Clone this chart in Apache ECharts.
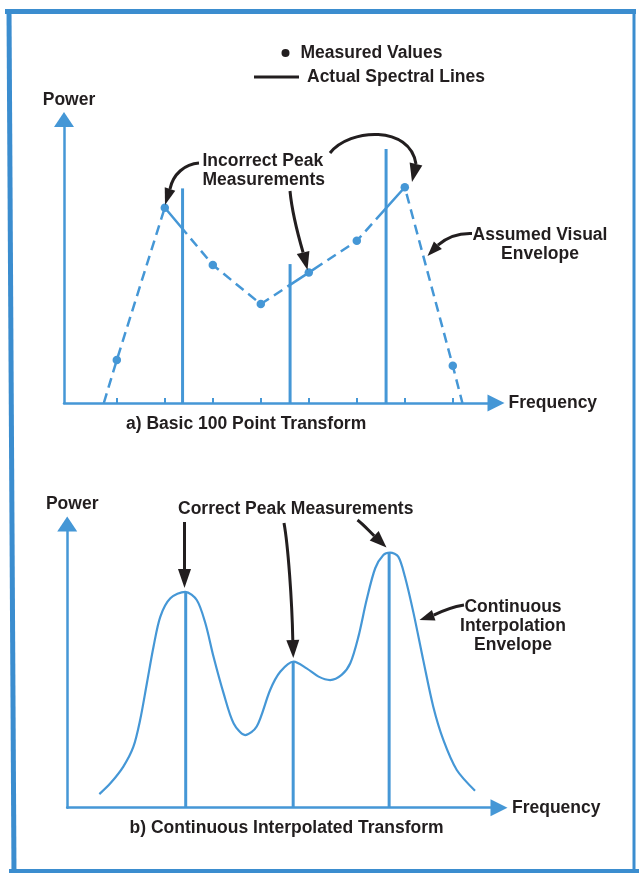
<!DOCTYPE html>
<html><head><meta charset="utf-8">
<script src="https://cdn.jsdelivr.net/npm/echarts@6/dist/echarts.min.js"></script>
<style>html,body{margin:0;padding:0;background:#fff}#c{width:639px;height:873px}</style>
</head><body><div id="c"></div>
<script>
// ---- data (frequency in bin units, power in relative units 0..100) ----
const measuredFreq  = [1.1, 2.1, 3.1, 4.1, 5.1, 6.1, 7.1, 8.1];
const measuredPower = [15.2, 68.9, 48.7, 34.9, 46.0, 57.2, 76.1, 13.1];
const envelopeEnds  = [0.83, 8.30];          // where the assumed envelope meets the axis
const spectralFreq   = [2.47, 4.71, 6.71];
const spectralPowerA = [75.7, 49.0, 89.6];
const spectralPowerB = [76.1, 51.5, 89.9];
const interpFreq  = [0.67,0.90,1.17,1.38,1.52,1.66,1.80,1.94,2.15,2.46,2.70,2.88,3.05,3.26,3.47,3.71,3.95,4.23,4.44,4.72,4.99,5.24,5.48,5.72,5.90,6.07,6.24,6.42,6.59,6.73,6.90,7.04,7.22,7.42,7.63,7.84,8.12,8.50];
const interpPower = [4.8,8.6,14.5,21.5,30.9,43.8,56.8,67.3,73.8,76.1,73.2,65.0,53.2,40.3,29.7,25.6,28.6,41.5,47.9,51.5,49.1,46.2,45.0,46.8,50.9,60.3,73.2,84.4,89.1,89.9,88.5,81.4,68.5,52.1,35.6,23.9,13.3,6.0];
const tickFreq = measuredFreq;

// ---- styling ----
const BLUE = '#4597d6';
const FRAME = '#3b8dcf';
const INK = '#221e1f';
const FONT = '"Liberation Sans", Arial, sans-serif';
const FS = 17.5;

// dash pattern of the hand-drawn envelope (solid stretches near the spectral lines), lengths along the path in px
function buildDash(solids, total, on, off) {
  const arr = []; let pos = 0;
  while (pos < total) {
    const s = solids.find(r => pos < r[1] && pos + on > r[0]);
    const len = s ? Math.max(s[1] - pos, on) : on;
    arr.push(len, off); pos += len + off;
  }
  return arr;
}
const envelopeDash = buildDash([[204, 239], [372, 415], [493, 529]], 800, 10, 6);

const chart = echarts.init(document.getElementById('c'), null, {renderer: 'canvas'});

const measuredData = measuredFreq.map((f, i) => [f, measuredPower[i]]);
const envelopeData = [[envelopeEnds[0], 0]].concat(measuredData, [[envelopeEnds[1], 0]]);
const specA = spectralFreq.map((f, i) => [f, spectralPowerA[i]]);
const specB = spectralFreq.map((f, i) => [f, spectralPowerB[i]]);
const interpData = interpFreq.map((f, i) => [f, interpPower[i]]);

function xAxisCfg(idx, withTicks, gap) {
  return {
    type: 'value', gridIndex: idx, min: 0, max: 9,
    name: 'Frequency', nameLocation: 'end', nameGap: gap,
    nameTextStyle: {color: INK, fontSize: FS, fontWeight: 'bold', fontFamily: FONT, verticalAlign: 'middle'},
    axisLine: {show: true, onZero: false, symbol: ['none', 'triangle'], symbolSize: [17, 17],
      lineStyle: {color: BLUE, width: 2.5}},
    axisTick: withTicks ? {show: true, inside: true, length: 5, customValues: tickFreq,
      lineStyle: {color: BLUE, width: 2}} : {show: false},
    axisLabel: {show: false}, splitLine: {show: false}
  };
}
function yAxisCfg(idx, gap) {
  return {
    type: 'value', gridIndex: idx, min: 0, max: 100,
    name: 'Power', nameLocation: 'end', nameGap: gap,
    nameTextStyle: {color: INK, fontSize: FS, fontWeight: 'bold', fontFamily: FONT, padding: [0, 0, 0, 10]},
    axisLine: {show: true, onZero: false, symbol: ['none', 'triangle'], symbolSize: [20, 15],
      lineStyle: {color: BLUE, width: 2.5}},
    axisTick: {show: false}, axisLabel: {show: false}, splitLine: {show: false}
  };
}

// arrow helpers (annotation graphics)
function head(tip, base, width) {
  const dx = tip[0] - base[0], dy = tip[1] - base[1];
  const L = Math.hypot(dx, dy), px = -dy / L * width / 2, py = dx / L * width / 2;
  return {type: 'polygon', shape: {points: [tip, [base[0] + px, base[1] + py], [base[0] - px, base[1] - py]]},
    style: {fill: INK}, z: 20};
}
function shaft(p0, c1, c2, p1) {
  return {type: 'bezierCurve', shape: {x1: p0[0], y1: p0[1], cpx1: c1[0], cpy1: c1[1], cpx2: c2[0], cpy2: c2[1], x2: p1[0], y2: p1[1]},
    style: {stroke: INK, lineWidth: 3, fill: null}, z: 20};
}
function label(text, x, y, align) {
  return {type: 'text', x: x, y: y, z: 20,
    style: {text: text, fill: INK, fontSize: FS, fontWeight: 'bold', fontFamily: FONT,
      align: align || 'left', verticalAlign: 'middle'}};
}
function frameLine(x1, y1, x2, y2, w) {
  return {type: 'line', shape: {x1, y1, x2, y2}, style: {stroke: FRAME, lineWidth: w}, z: 30};
}

const graphics = [
  frameLine(5, 11.5, 636, 11.5, 5),
  frameLine(634, 9, 634, 873, 3),
  frameLine(9, 871, 639, 871, 4),
  frameLine(9, 9, 14, 873, 5),
  // top annotations
  label('Incorrect Peak', 202.5, 161),
  label('Measurements', 202.5, 180.5),
  label('Assumed Visual', 540, 235.5, 'center'),
  label('Envelope', 540, 254.5, 'center'),
  shaft([199, 163], [185, 164], [173, 174], [170, 189]), head([165, 205], [170, 189], 11),
  shaft([290, 191], [292, 212], [298, 235], [303.1, 252.5]), head([307.5, 270], [303.1, 252.5], 13),
  shaft([330, 153], [350, 128], [410, 125], [416, 164]), head([412, 182], [416, 164], 13),
  shaft([472, 233.5], [458, 233], [446, 238], [437.9, 245.2]), head([427.5, 256], [437.9, 245.2], 11),
  // bottom annotations
  label('Correct Peak Measurements', 178, 509),
  label('Continuous', 513, 607.5, 'center'),
  label('Interpolation', 513, 626.5, 'center'),
  label('Envelope', 513, 645.5, 'center'),
  shaft([184.5, 522], [184.5, 540], [184.5, 555], [184.5, 569]), head([184.5, 588], [184.5, 569], 13),
  shaft([284, 523], [288, 545], [292, 600], [292.8, 640]), head([293.3, 658], [292.8, 640], 13),
  shaft([357.5, 520], [364, 525], [369, 531], [374.2, 535.8]), head([386.5, 547.5], [374.2, 535.8], 13),
  shaft([464, 605], [452, 607], [442, 611], [433.7, 615.2]), head([419.5, 620], [433.7, 615.2], 11)
];

const option = {
  backgroundColor: '#ffffff',
  animation: false,
  title: [
    {text: 'a) Basic 100 Point Transform', left: 121, top: 409,
      textStyle: {color: INK, fontSize: FS, fontWeight: 'bold', fontFamily: FONT, lineHeight: 20}},
    {text: 'b) Continuous Interpolated Transform', left: 124.6, top: 813,
      textStyle: {color: INK, fontSize: FS, fontWeight: 'bold', fontFamily: FONT, lineHeight: 20}}
  ],
  legend: [
    {orient: 'vertical', left: 276.5, top: 39, itemWidth: 20, itemHeight: 8,
      data: [{name: 'Measured Values', icon: 'circle', itemStyle: {color: INK}}],
      textStyle: {color: INK, fontSize: FS, fontWeight: 'bold', fontFamily: FONT, padding: [0, 0, 6, 0]}, selectedMode: false},
    {orient: 'vertical', left: 249, top: 63, itemWidth: 45, itemHeight: 3,
      data: [{name: 'Actual Spectral Lines', icon: 'rect', itemStyle: {color: INK}}],
      textStyle: {color: INK, fontSize: FS, fontWeight: 'bold', fontFamily: FONT, padding: [0, 0, 10, 3]}, selectedMode: false}
  ],
  grid: [
    {left: 64, top: 119.5, width: 432, height: 283.5, containLabel: false, outerBoundsMode: 'none'},
    {left: 67.2, top: 524, width: 431.8, height: 283.7, containLabel: false, outerBoundsMode: 'none'}
  ],
  xAxis: [xAxisCfg(0, true, 12.6), xAxisCfg(1, false, 13)],
  yAxis: [yAxisCfg(0, 10), yAxisCfg(1, 11)],
  series: [
    {name: 'Assumed Visual Envelope', type: 'line', xAxisIndex: 0, yAxisIndex: 0, data: envelopeData,
      symbol: 'none', lineStyle: {color: BLUE, width: 2.5, type: envelopeDash}, z: 3},
    {name: 'Actual Spectral Lines', type: 'bar', xAxisIndex: 0, yAxisIndex: 0, data: specA,
      barWidth: 3, itemStyle: {color: BLUE}, z: 2},
    {name: 'Measured Values', type: 'scatter', xAxisIndex: 0, yAxisIndex: 0, data: measuredData,
      symbolSize: 8.5, itemStyle: {color: BLUE, opacity: 1}, z: 4},
    {name: 'Actual Spectral Lines', type: 'bar', xAxisIndex: 1, yAxisIndex: 1, data: specB,
      barWidth: 3, itemStyle: {color: BLUE}, z: 2},
    {name: 'Continuous Interpolation Envelope', type: 'line', xAxisIndex: 1, yAxisIndex: 1, data: interpData,
      symbol: 'none', smooth: 0.3, lineStyle: {color: BLUE, width: 2.2}, z: 3}
  ],
  graphic: graphics
};
chart.setOption(option);
</script></body></html>
